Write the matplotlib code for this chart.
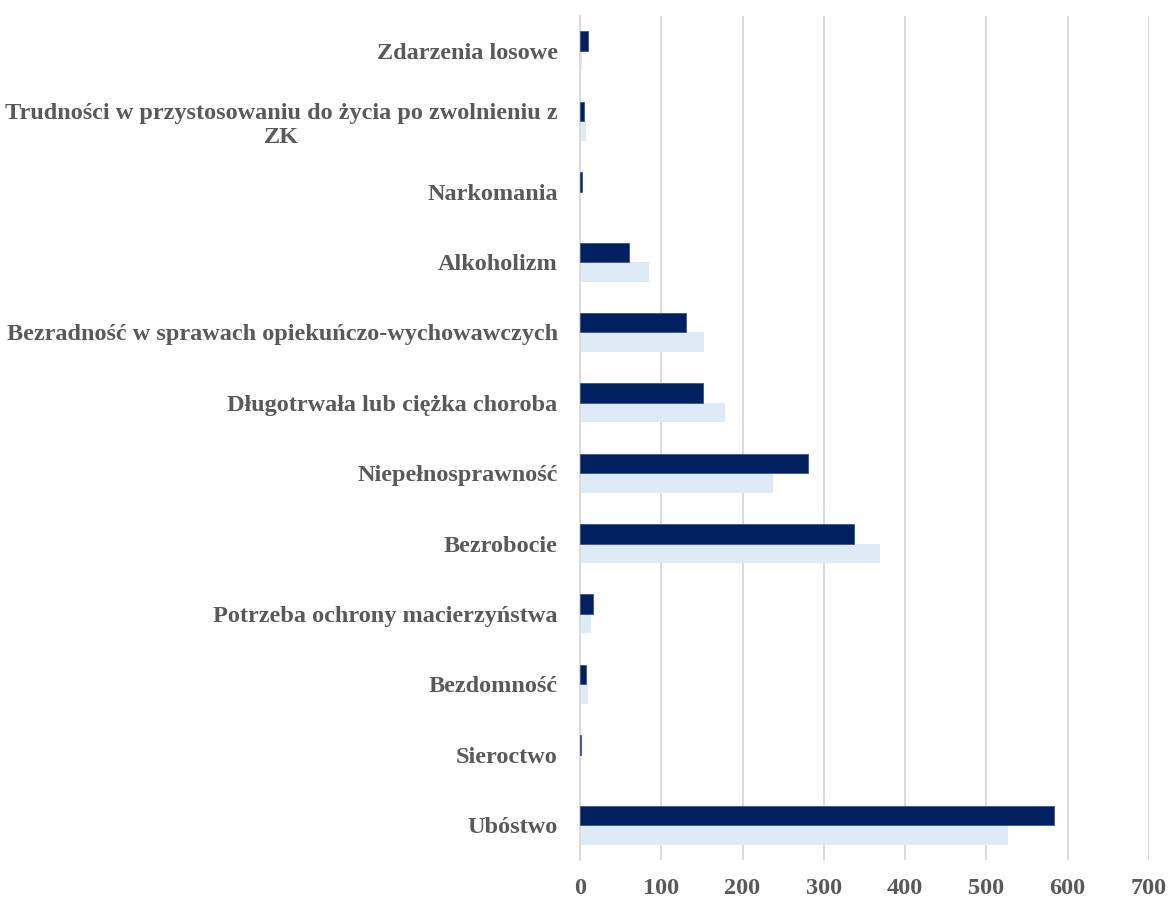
import matplotlib.pyplot as plt
import numpy as np

# categories listed bottom to top
categories = [
    'Ubóstwo',
    'Sieroctwo',
    'Bezdomność',
    'Potrzeba ochrony macierzyństwa',
    'Bezrobocie',
    'Niepełnosprawność',
    'Długotrwała lub ciężka choroba',
    'Bezradność w sprawach opiekuńczo-wychowawczych',
    'Alkoholizm',
    'Narkomania',
    'Trudności w przystosowaniu do życia po zwolnieniu z\nZK',
    'Zdarzenia losowe',
]
dark_vals = [583, 1.5, 7, 16, 337, 280, 151, 130, 60, 2, 4.5, 10]
light_vals = [526, 0.8, 10, 14, 369, 237, 179, 153, 85, 0.5, 7, 3]
xticks = [0, 100, 200, 300, 400, 500, 600, 700]

dark_col = '#002060'
light_col = '#DEEAF6'
grid_col = '#D9D9D9'
text_col = '#595959'

fig = plt.figure(figsize=(11.70, 8.98), dpi=100)
ax = fig.add_axes([0.4957, 0.0421, 0.4863, 0.9403])

y = np.arange(len(categories))
h = 0.277
ax.barh(y - h / 2, light_vals, height=h, color=light_col, zorder=2)
ax.barh(y + h / 2, dark_vals, height=h, color=dark_col,
        edgecolor='#3a5490', linewidth=0.6, zorder=3)

ax.set_xlim(0, 700)
ax.set_ylim(-0.5, len(categories) - 0.5)
ax.set_xticks(xticks)
ax.xaxis.grid(True, color=grid_col, linewidth=1.3, zorder=0)
ax.set_axisbelow(True)
for s in ['top', 'right', 'bottom']:
    ax.spines[s].set_visible(False)
ax.spines['left'].set_color(grid_col)
ax.spines['left'].set_linewidth(1.3)

ax.set_yticks(y)
ax.set_yticklabels(categories)
ax.tick_params(axis='both', length=0)
ax.tick_params(axis='y', pad=16)
ax.tick_params(axis='x', pad=13)
for lab in ax.get_yticklabels() + ax.get_xticklabels():
    lab.set_fontfamily('Liberation Serif')
    lab.set_fontweight('bold')
    lab.set_fontsize(17.5)
    lab.set_color(text_col)
for lab in ax.get_yticklabels():
    lab.set_multialignment('center')

fig.savefig('out.png', dpi=100)
